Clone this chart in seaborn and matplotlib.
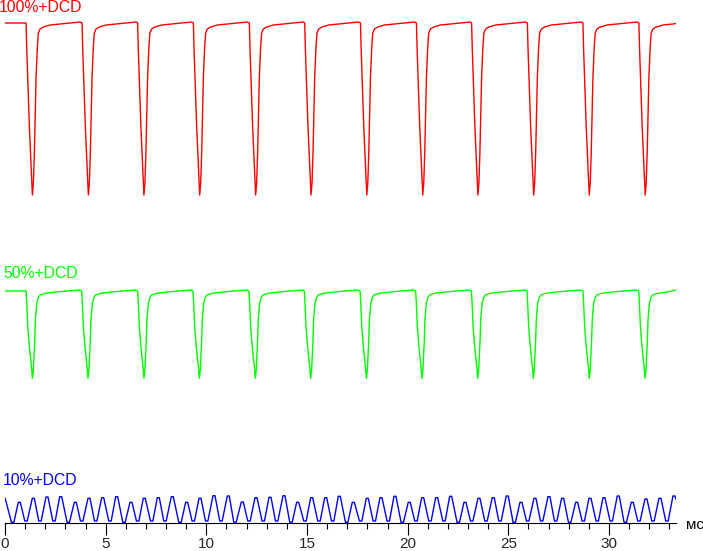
import pandas as pd
import matplotlib
matplotlib.use("Agg")
import matplotlib.pyplot as plt
from matplotlib.ticker import MultipleLocator
import seaborn as sns

sns.set_style("white")
plt.rcParams["font.family"] = ["Liberation Sans", "DejaVu Sans"]

# ==========================================
#   DATA  (time in ms, brightness in a.u.)
# ==========================================
t_end = 33.33

# 100%+DCD : dip centres and the shape of one dip (offset from centre, level)
red_dips = [1.36, 4.14, 6.90, 9.67, 12.45, 15.20, 17.97, 20.75, 23.49, 26.26, 29.02, 31.80]
red_shape_dt = [-0.313, -0.278, -0.199, -0.149, -0.079, -0.030, 0.0, 0.050, 0.099,
                0.149, 0.184, 0.248, 0.298, 0.382, 0.546, 0.879, 1.376, 2.369]
red_shape_y = [500, 473, 426, 396, 363, 338, 328, 340, 370,
               413, 446, 476, 490, 494, 496, 498, 499, 501]
red_start, red_stop = 500, 499.5

# 50%+DCD
green_dips = [1.36, 4.12, 6.90, 9.65, 12.43, 15.18, 17.95, 20.71, 23.48, 26.24, 29.02, 31.79]
green_shape_dt = [-0.313, -0.278, -0.228, -0.149, -0.079, -0.030, 0.0, 0.050, 0.083,
                  0.119, 0.149, 0.218, 0.298, 0.382, 0.629, 1.043, 1.709, 2.369]
green_shape_y = [232, 219.7, 196.3, 176.3, 163, 153, 144.7, 153, 166.3,
                 183, 203, 219.7, 225.7, 228, 229.7, 230.7, 232, 233]
green_start, green_stop = 232, 233

# 10%+DCD : peaks and troughs of the ripple
blue_peak_t = [0.710, 1.406, 2.086, 2.767, 3.492, 4.172, 4.853, 5.548, 6.258, 6.919,
               7.614, 8.310, 9.025, 9.686, 10.381, 11.091, 11.787, 12.467, 13.163, 13.858,
               14.538, 15.233, 15.929, 16.604, 17.300, 17.995, 18.676, 19.371, 20.081, 20.747,
               21.442, 22.138, 22.848, 23.543, 24.253, 24.949, 25.629, 26.325, 27.020, 27.700,
               28.396, 29.057, 29.752, 30.462, 31.158, 31.838, 32.533, 33.229]
blue_peak_y = [20.7, 24.7, 26.0, 26.3, 20.7, 24.7, 25.3, 26.3, 20.7, 24.7,
               25.3, 26.3, 20.7, 24.7, 27.3, 27.0, 21.0, 25.3, 25.7, 27.3,
               20.7, 25.3, 25.3, 26.7, 20.7, 24.7, 25.3, 26.7, 20.7, 25.3,
               25.3, 26.7, 20.7, 24.7, 25.3, 27.0, 20.7, 24.7, 26.3, 24.7,
               20.7, 24.7, 25.3, 27.0, 20.7, 24.0, 24.7, 27.0]
blue_trough_t = [0.382, 1.043, 1.738, 2.434, 3.144, 3.810, 4.505, 5.215, 5.911, 6.591,
                 7.286, 7.947, 8.692, 9.353, 10.018, 10.729, 11.424, 12.119, 12.829, 13.495,
                 14.205, 14.901, 15.596, 16.277, 16.972, 17.667, 18.343, 19.038, 19.734, 20.414,
                 21.109, 21.805, 22.515, 23.181, 23.891, 24.586, 25.296, 25.962, 26.657, 27.352,
                 28.048, 28.724, 29.419, 30.114, 30.810, 31.490, 32.186, 32.881]
blue_trough_y = [0.7, 2, 2, 2, 0.7, 2, 2, 2, 0.7, 2,
                 2, 2, 0.7, 2, 2, 2, 0.7, 2, 2, 2,
                 0.7, 2, 2, 2, 0.7, 2, 2, 2, 0.7, 2,
                 2, 2, 0.7, 2, 2, 2, 0.7, 2, 2, 2,
                 0.7, 2, 2, 2, 0.7, 2, 2, 2]
blue_start, blue_stop = 25.3, 23.7
# flat width of the rounded crests / valleys of the ripple (ms)
blue_top_w, blue_bottom_w = 0.10, 0.12

labels = ["100%+DCD", "50%+DCD", "10%+DCD"]
colors = ["#ff0000", "#00ff00", "#0000ff"]


# ==========================================
#   BUILD TRACES
# ==========================================
def dip_train(dips, dt, y, start, stop):
    t, v = [0.0], [start]
    for d in dips:
        for o, yy in zip(dt, y):
            if 0 < d + o < t_end:
                t.append(d + o)
                v.append(yy)
    t.append(t_end)
    v.append(stop)
    return pd.DataFrame({"t": t, "v": v})


def ripple(pt, py, tt, ty, start, stop):
    t, v = [0.0], [start]
    for a, b in zip(pt, py):
        t += [a - blue_top_w / 2, a + blue_top_w / 2]
        v += [b, b]
    for a, b in zip(tt, ty):
        t += [a - blue_bottom_w / 2, a + blue_bottom_w / 2]
        v += [b, b]
    t.append(t_end)
    v.append(stop)
    df = pd.DataFrame({"t": t, "v": v}).sort_values("t")
    return df[(df.t >= 0) & (df.t <= t_end)].reset_index(drop=True)


red = dip_train(red_dips, red_shape_dt, red_shape_y, red_start, red_stop)
green = dip_train(green_dips, green_shape_dt, green_shape_y, green_start, green_stop)
blue = ripple(blue_peak_t, blue_peak_y, blue_trough_t, blue_trough_y, blue_start, blue_stop)

# ==========================================
#   PLOT
# ==========================================
fig = plt.figure(figsize=(7.03, 5.51), dpi=100)
ax = fig.add_axes([5 / 703, 1 - 523 / 551, 671 / 703, 523 / 551])

for df, c in zip([red, green, blue], colors):
    sns.lineplot(data=df, x="t", y="v", color=c, lw=1.0, estimator=None,
                 sort=False, ax=ax)

ax.set_xlim(0, t_end)
ax.set_ylim(0, 523)
ax.set_xlabel("")
ax.set_ylabel("")
ax.set_yticks([])

for s in ["top", "left", "right"]:
    ax.spines[s].set_visible(False)
ax.spines["bottom"].set_color("black")
ax.spines["bottom"].set_linewidth(0.8)

ax.xaxis.set_major_locator(MultipleLocator(5))
ax.xaxis.set_minor_locator(MultipleLocator(1))
ax.tick_params(axis="x", which="major", direction="out", length=8.4, width=0.8,
               color="black", pad=1.5, labelsize=11, bottom=True)
ax.tick_params(axis="x", which="minor", direction="out", length=4.1, width=0.8,
               color="black", bottom=True)

# trace labels
ax.text(-0.32, 511, labels[0], color=colors[0], fontsize=11.3, va="baseline", clip_on=False)
ax.text(-0.10, 244.7, labels[1], color=colors[1], fontsize=11.3, va="baseline", clip_on=False)
ax.text(-0.12, 38, labels[2], color=colors[2], fontsize=11.3, va="baseline", clip_on=False)

# unit
ax.text(33.82, -6, "мс", color="black", fontsize=11, va="baseline", clip_on=False)

fig.savefig("out.png", dpi=100)
